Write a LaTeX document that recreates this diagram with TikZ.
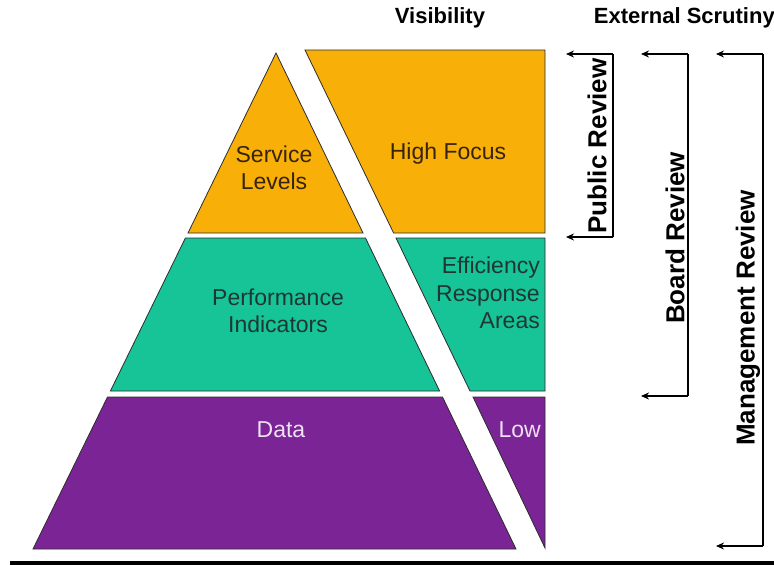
\documentclass[tikz,border=0pt]{standalone}
\usepackage{fontspec}
\setmainfont{Liberation Sans}
\usetikzlibrary{arrows.meta}
\definecolor{tierorange}{RGB}{248,176,8}
\definecolor{tiergreen}{RGB}{22,196,152}
\definecolor{tierpurple}{RGB}{122,36,150}
\definecolor{edgegray}{RGB}{45,45,45}
\definecolor{darktext}{RGB}{55,35,10}
\definecolor{greentext}{RGB}{30,55,50}
\definecolor{lighttext}{RGB}{238,225,242}
\tikzset{
  tier/.style={draw=edgegray, line width=0.8pt},
  lbl/.style={font=\fontsize{23}{27.5}\selectfont, align=center, inner sep=0pt},
  head/.style={font=\bfseries\fontsize{22}{26}\selectfont, inner sep=0pt},
  side/.style={font=\bfseries\fontsize{26}{28}\selectfont, rotate=90, inner sep=0pt},
  bracketline/.style={line width=2pt},
  bracket/.style={line width=2pt, -{Stealth[length=8pt,width=7pt]}},
}
\begin{document}
\begin{tikzpicture}[x=1pt,y=-1pt]
\useasboundingbox (0,0) rectangle (774,565);
\fill[white] (0,0) rectangle (774,565);

% pyramid tiers
\filldraw[tier, fill=tierorange] (276,53) -- (363,233) -- (188,233) -- cycle;
\filldraw[tier, fill=tiergreen] (185.4,238) -- (365.5,238) -- (439.6,391) -- (110.4,391) -- cycle;
\filldraw[tier, fill=tierpurple] (107.5,397) -- (442.5,397) -- (516,549) -- (33,549) -- cycle;

% visibility blocks
\filldraw[tier, fill=tierorange] (305,50) -- (545,50) -- (545,233) -- (393.6,233) -- cycle;
\filldraw[tier, fill=tiergreen] (396,238) -- (545,238) -- (545,391) -- (470,391) -- cycle;
\filldraw[tier, fill=tierpurple] (473,397) -- (545,397) -- (545,548) -- cycle;

% labels
\node[lbl, text=darktext] (service) at (274,168) {Service\\Levels};
\node[lbl, text=darktext] (highfocus) at (448,154) {High Focus};
\node[lbl, text=greentext] (perf) at (278,311) {Performance\\Indicators};
\node[lbl, text=greentext, align=right, anchor=east] (eff) at (540,293) {Efficiency\\Response\\Areas};
\node[lbl, text=lighttext] (data) at (281,430) {Data};
\node[lbl, text=lighttext, anchor=east] (low) at (541,430) {Low};

% headers
\node[head] (vis) at (440,18) {Visibility};
\node[head, anchor=east] (ext) at (775,18) {External Scrutiny};

% review brackets
\coordinate (pubT) at (613,54);
\coordinate (pubB) at (613,237);
\coordinate (pubTt) at (566,54);
\coordinate (pubBt) at (566,237);
\draw[bracketline] (pubT) -- (pubB);
\draw[bracket] (pubT) -- (pubTt);
\draw[bracket] (pubB) -- (pubBt);
\node[side] (pubrev) at (597,146) {Public Review};

\coordinate (brdT) at (688,54);
\coordinate (brdB) at (688,396);
\coordinate (brdTt) at (641,54);
\coordinate (brdBt) at (641,396);
\draw[bracketline] (brdT) -- (brdB);
\draw[bracket] (brdT) -- (brdTt);
\draw[bracket] (brdB) -- (brdBt);
\node[side] (brdrev) at (675,238) {Board Review};

\coordinate (mgtT) at (763,54);
\coordinate (mgtB) at (763,546);
\coordinate (mgtTt) at (716,54);
\coordinate (mgtBt) at (716,546);
\draw[bracketline] (mgtT) -- (mgtB);
\draw[bracket] (mgtT) -- (mgtTt);
\draw[bracket] (mgtB) -- (mgtBt);
\node[side] (mgtrev) at (748,318) {Management Review};

% base rule
\fill[black] (10,561) rectangle (774,565);
\end{tikzpicture}
\end{document}
